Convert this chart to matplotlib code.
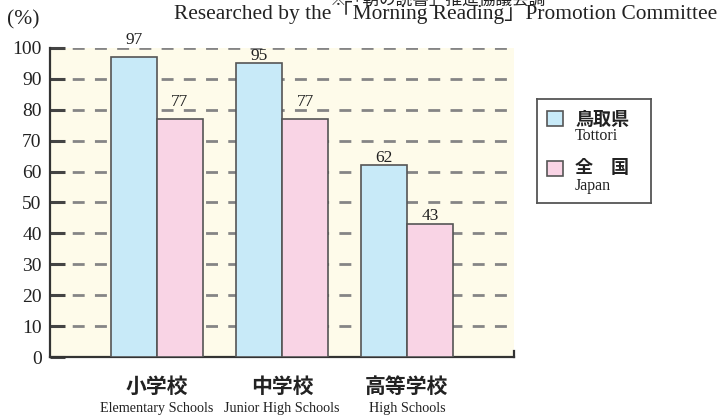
import matplotlib
matplotlib.use("Agg")
import matplotlib.pyplot as plt
import numpy as np
import math

categories_jp = ["小学校", "中学校", "高等学校"]
categories_en = ["Elementary Schools", "Junior High Schools", "High Schools"]
tottori = [97, 95, 62]
japan = [77, 77, 43]
yticks = list(range(0, 101, 10))

SERIF = ["Liberation Serif", "DejaVu Serif"]
JP = ["Noto Sans CJK JP", "DejaVu Sans"]

blue = "#C8EAF8"
pink = "#F9D4E5"
edge = "#555555"
bg = "#FEFBEA"
txt = "#222222"

fig = plt.figure(figsize=(7.21, 4.16), dpi=100)
ax = fig.add_axes([50/721, 1-357/416, 464/721, 309/416])
ax.set_facecolor(bg)

x = np.arange(len(categories_jp))
w = 0.368
ax.set_xlim(-0.856, 2.856)
ax.set_ylim(0, 100)

for yv in yticks[1:]:
    ax.plot([-0.856, 2.856], [yv, yv], color="#858585", lw=2.0,
            dashes=(4.3, 3.7), zorder=1, solid_capstyle="butt")

ax.bar(x - w/2, tottori, w, color=blue, edgecolor=edge, linewidth=1.2, zorder=3)
ax.bar(x + w/2, japan, w, color=pink, edgecolor=edge, linewidth=1.2, zorder=3)

LABEL_H = 3.9  # approx digit height in data units

def label(xi, v):
    base = v + 1.2
    nxt = math.ceil(base / 10) * 10
    if base + LABEL_H > nxt + 0.8:
        base = nxt + 1.2  # lift label clear of the gridline it would cross
    ax.text(xi, base, str(v), ha="center", va="baseline", fontsize=12.5,
            family=SERIF, color=txt, zorder=5, clip_on=False)

for xi, v in zip(x - w/2, tottori):
    label(xi, v)
for xi, v in zip(x + w/2, japan):
    label(xi, v)

for s in ["top", "right"]:
    ax.spines[s].set_visible(False)
for s in ["left", "bottom"]:
    ax.spines[s].set_color("#333333")
    ax.spines[s].set_linewidth(1.6)
ax.plot([2.856, 2.856], [0, 1.8], color="#333333", lw=1.6, clip_on=False, zorder=4)

ax.set_yticks(yticks)
ax.set_yticklabels([str(t) for t in yticks], family=SERIF, fontsize=14, color=txt)
ax.tick_params(axis="y", direction="in", length=11, width=2.2, color="#444444", pad=6)
ax.set_xticks([])

for xi, jp, en in zip(x, categories_jp, categories_en):
    ax.annotate(jp, (xi, 0), xytext=(0, -21), textcoords="offset points",
                ha="center", va="center", family=JP, fontsize=15,
                fontweight="bold", color=txt, annotation_clip=False)
    ax.annotate(en, (xi, 0), xytext=(0, -37), textcoords="offset points",
                ha="center", va="center", family=SERIF, fontsize=10.2,
                color=txt, annotation_clip=False)

fig.text(7/721, 1-20/416, "(%)", ha="left", va="center", family=SERIF, fontsize=15.5, color=txt)
fig.text(717/721, 1-12/416, "Researched by the\u300cMorning Reading\u300dPromotion Committee",
         ha="right", va="center", family=["Liberation Serif", "Noto Sans CJK JP"], fontsize=15.4, color=txt)
fig.text(330/721, 1-5/416, "\u203b\u300c朝の読書\u300d推進協議会調", ha="left", va="baseline",
         family=JP, fontsize=12, color=txt)

# legend box
lax = fig.add_axes([537/721, 1-203/416, 114/721, 104/416])
lax.set_xlim(0, 114)
lax.set_ylim(104, 0)
lax.set_xticks([]); lax.set_yticks([])
for s in lax.spines.values():
    s.set_color("#555555"); s.set_linewidth(1.3)
lax.add_patch(plt.Rectangle((10, 12), 16, 15, facecolor=blue, edgecolor=edge, lw=1.2))
lax.add_patch(plt.Rectangle((10, 62), 16, 15, facecolor=pink, edgecolor=edge, lw=1.2))
lax.text(38, 20, "鳥取県", family=JP, fontsize=13, fontweight="bold", va="center", ha="left", color=txt)
lax.text(38, 37.5, "Tottori", family=SERIF, fontsize=11.5, va="center", ha="left", color=txt)
lax.text(38, 68.5, "全　国", family=JP, fontsize=13, fontweight="bold", va="center", ha="left", color=txt)
lax.text(38, 87, "Japan", family=SERIF, fontsize=11.5, va="center", ha="left", color=txt)

fig.savefig("out.png", dpi=100)
